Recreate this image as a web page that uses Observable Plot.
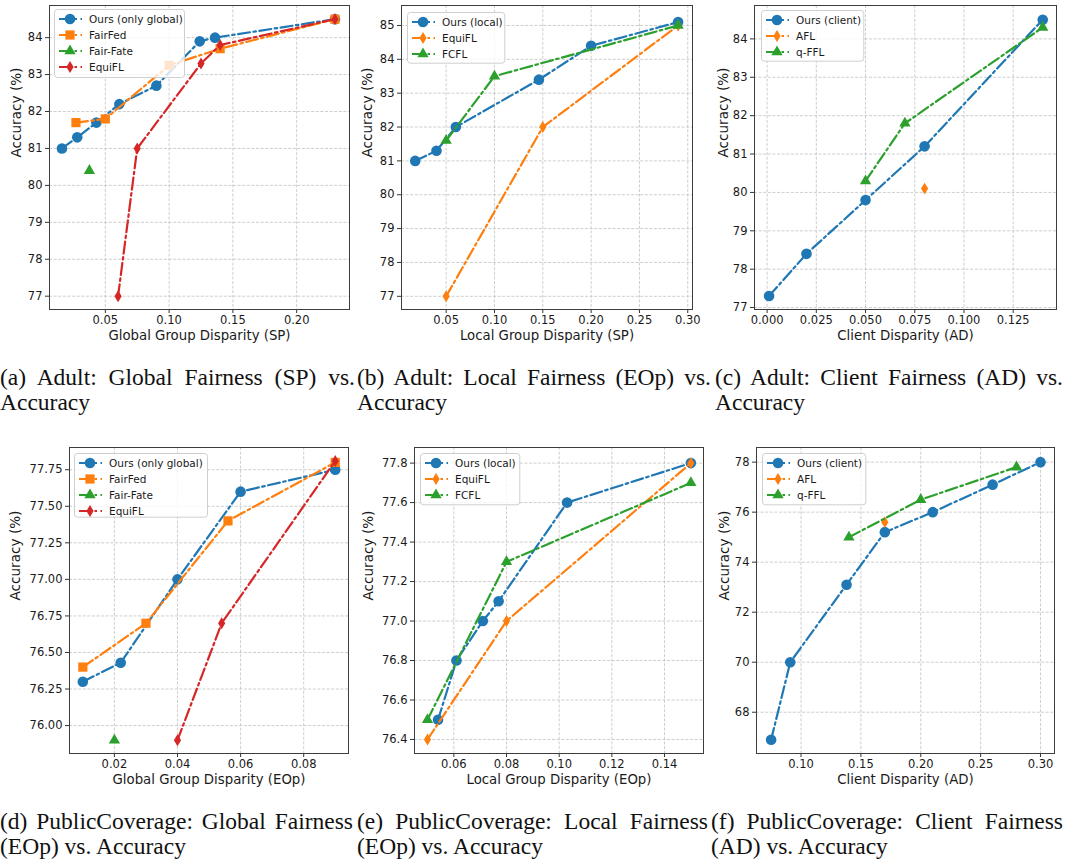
<!DOCTYPE html>
<html><head><meta charset="utf-8">
<script src="https://cdn.jsdelivr.net/npm/d3@7"></script>
<script src="https://cdn.jsdelivr.net/npm/@observablehq/plot@0.6"></script>
<style>
body{margin:0;background:#fff;}
#root{position:relative;width:1067px;height:861px;overflow:hidden;background:#fff;}
#root svg.panel{position:absolute;}
.cap{position:absolute;font-family:"Liberation Serif","Times New Roman",serif;font-size:23.5px;line-height:25px;text-align:justify;color:#111;}
</style></head><body><div id="root"></div><script>
// ---------------- data ----------------
// (a) Adult: global group disparity (SP)
const aOurs     = [[0.016,81.0],[0.028,81.3],[0.043,81.7],[0.061,82.2],[0.090,82.7],[0.124,83.9],[0.136,84.0],[0.230,84.5]];
const aFairFed  = [[0.027,81.7],[0.050,81.8],[0.100,83.25],[0.140,83.7],[0.230,84.5]];
const aFairFate = [[0.0375,80.4]];
const aEquiFL   = [[0.060,77.0],[0.075,81.0],[0.125,83.3],[0.140,83.8],[0.230,84.5]];
// (b) Adult: local group disparity (SP)
const bOurs   = [[0.018,81.0],[0.040,81.3],[0.060,82.0],[0.146,83.4],[0.200,84.4],[0.290,85.1]];
const bEquiFL = [[0.050,77.0],[0.150,82.0],[0.290,85.0]];
const bFCFL   = [[0.050,81.6],[0.100,83.5],[0.290,85.0]];
// (c) Adult: client disparity (AD)
const cOurs = [[0.001,77.3],[0.020,78.4],[0.050,79.8],[0.080,81.2],[0.140,84.5]];
const cAFL  = [[0.080,80.1]];
const cQFFL = [[0.050,80.3],[0.070,81.8],[0.140,84.3]];
// (d) PublicCoverage: global group disparity (EOp)
const dOurs     = [[0.010,76.30],[0.022,76.43],[0.040,77.00],[0.060,77.60],[0.090,77.75]];
const dFairFed  = [[0.010,76.40],[0.030,76.70],[0.056,77.40],[0.090,77.80]];
const dFairFate = [[0.020,75.90]];
const dEquiFL   = [[0.040,75.90],[0.054,76.70],[0.090,77.81]];
// (e) PublicCoverage: local group disparity (EOp)
const eOurs   = [[0.054,76.5],[0.061,76.8],[0.071,77.0],[0.077,77.1],[0.103,77.6],[0.150,77.8]];
const eEquiFL = [[0.050,76.4],[0.080,77.0],[0.150,77.8]];
const eFCFL   = [[0.050,76.5],[0.080,77.3],[0.150,77.7]];
// (f) PublicCoverage: client disparity (AD)
const fOurs = [[0.075,66.9],[0.091,70.0],[0.138,73.1],[0.170,75.2],[0.210,76.0],[0.260,77.1],[0.300,78.0]];
const fAFL  = [[0.170,75.6]];
const fQFFL = [[0.140,75.0],[0.200,76.5],[0.280,77.8]];

// tick labels
const aXTicks = [0.05,0.10,0.15,0.20];
const aYTicks = [77,78,79,80,81,82,83,84];
const bXTicks = [0.05,0.10,0.15,0.20,0.25,0.30];
const bYTicks = [77,78,79,80,81,82,83,84,85];
const cXTicks = [0,0.025,0.05,0.075,0.1,0.125];
const cYTicks = [77,78,79,80,81,82,83,84];
const dXTicks = [0.02,0.04,0.06,0.08];
const dYTicks = [76.00,76.25,76.50,76.75,77.00,77.25,77.50,77.75];
const eXTicks = [0.06,0.08,0.10,0.12,0.14];
const eYTicks = [76.4,76.6,76.8,77.0,77.2,77.4,77.6,77.8];
const fXTicks = [0.10,0.15,0.20,0.25,0.30];
const fYTicks = [68,70,72,74,76,78];

// texts
const xLabels = ["Global Group Disparity (SP)","Local Group Disparity (SP)","Client Disparity (AD)",
                 "Global Group Disparity (EOp)","Local Group Disparity (EOp)","Client Disparity (AD)"];
const yLabel = "Accuracy (%)";
const namesGroupGlobal = ["Ours (only global)","FairFed","Fair-Fate","EquiFL"];
const namesGroupLocal  = ["Ours (local)","EquiFL","FCFL"];
const namesClient      = ["Ours (client)","AFL","q-FFL"];
const captions = [
  "(a) Adult:  Global Fairness (SP) vs. Accuracy",
  "(b) Adult:  Local Fairness (EOp) vs. Accuracy",
  "(c) Adult:  Client Fairness (AD) vs. Accuracy",
  "(d) PublicCoverage: Global Fairness (EOp) vs. Accuracy",
  "(e) PublicCoverage:  Local Fairness (EOp) vs. Accuracy",
  "(f) PublicCoverage:  Client Fairness (AD) vs. Accuracy"
];

// ---------------- style ----------------
const BLUE="#1f77b4", ORANGE="#ff7f0e", GREEN="#2ca02c", RED="#d62728";
const DASH = "12,3.5,2.5,3.5";
const thinDiamond = {draw(ctx, size){ const r=Math.sqrt(size/Math.PI); const hh=1.12*r, hw=0.68*r;
  ctx.moveTo(0,-hh); ctx.lineTo(hw,0); ctx.lineTo(0,hh); ctx.lineTo(-hw,0); ctx.closePath(); }};
const SYM = {
  circle:{plot:"circle", d3:d3.symbolCircle, r:5.3},
  square:{plot:"square", d3:d3.symbolSquare, r:5.2},
  triangle:{plot:"triangle", d3:d3.symbolTriangle, r:4.2},
  diamond:{plot:thinDiamond, d3:thinDiamond, r:5.3}
};
const root = document.getElementById("root");

function panel(cfg){
  const mr=8, mb=42;
  const marks = [
    Plot.ruleX(cfg.xTicks,{stroke:"#c2c2c2",strokeWidth:0.8,strokeDasharray:"3,1.6"}),
    Plot.ruleY(cfg.yTicks,{stroke:"#c2c2c2",strokeWidth:0.8,strokeDasharray:"3,1.6"}),
    Plot.axisX(cfg.xTicks,{tickFormat:cfg.xFmt, tickSize:4, tickPadding:2, fontSize:11.5, label:null, stroke:"#333", fill:"#1a1a1a"}),
    Plot.axisY(cfg.yTicks,{tickFormat:cfg.yFmt, tickSize:4, tickPadding:3, fontSize:11.5, label:null, stroke:"#333", fill:"#1a1a1a"}),
    Plot.text([cfg.xLabel],{text:d=>d, frameAnchor:"bottom", dy:26, lineAnchor:"middle", fontSize:13.3, fill:"#1a1a1a"}),
    Plot.text([yLabel],{text:d=>d, frameAnchor:"left", dx:-cfg.yOff, rotate:-90, lineAnchor:"middle", fontSize:13.6, fill:"#1a1a1a"})
  ];
  for (const s of cfg.series){
    const sy = SYM[s.symbol];
    marks.push(Plot.line(s.data,{x:d=>d[0], y:d=>d[1], stroke:s.color, strokeWidth:2.2, strokeDasharray:DASH}));
    marks.push(Plot.dot(s.data,{x:d=>d[0], y:d=>d[1], fill:s.color, r:sy.r, symbol:sy.plot}));
  }
  marks.push(Plot.frame({stroke:"#3d3d3d", strokeWidth:1}));
  const svg = Plot.plot({
    width: cfg.ml+cfg.fw+mr, height: cfg.mt+cfg.fh+mb,
    marginLeft: cfg.ml, marginRight: mr, marginTop: cfg.mt, marginBottom: mb,
    x:{domain:cfg.xDomain}, y:{domain:cfg.yDomain},
    style:{fontFamily:"DejaVu Sans", fontSize:"11.5px", color:"#1a1a1a", background:"transparent", overflow:"visible"},
    marks
  });
  svg.classList.add("panel");
  svg.style.left = cfg.left+"px"; svg.style.top = cfg.top+"px";
  root.appendChild(svg);
  // legend
  const L = cfg.legend;
  const lg = d3.select(root).append("svg").attr("width",L.w+2).attr("height",L.h+2)
    .style("position","absolute").style("left",(L.x-1)+"px").style("top",(L.y-1)+"px");
  lg.append("rect").attr("x",1.5).attr("y",1.5).attr("width",L.w-1).attr("height",L.h-1).attr("rx",3)
    .attr("fill","rgba(255,255,255,0.8)").attr("stroke","#cfcfcf");
  cfg.series.forEach((s,i)=>{
    const y = 1+10+i*16, sy = SYM[s.symbol];
    lg.append("line").attr("x1",6).attr("x2",29).attr("y1",y).attr("y2",y)
      .attr("stroke",s.color).attr("stroke-width",2.2).attr("stroke-dasharray",DASH);
    lg.append("path").attr("transform",`translate(17,${y})`)
      .attr("d", d3.symbol(sy.d3, Math.PI*sy.r*sy.r)()).attr("fill",s.color);
    lg.append("text").attr("x",36).attr("y",y).attr("dy","0.35em").text(s.name)
      .style("font-family","DejaVu Sans").style("font-size","10.5px").attr("fill","#1a1a1a");
  });
}

const f2 = d3.format(".2f"), f3 = d3.format(".3f"), f1 = d3.format(".1f"), f0 = d3.format("d");
const mk = (names, datas, colors, symbols) => names.map((n,i)=>({name:n, data:datas[i], color:colors[i], symbol:symbols[i]}));

panel({left:0, top:0, ml:49, mt:5, fw:300, fh:304, xDomain:[0.00625,0.2414], yDomain:[76.64,84.87],
  xTicks:aXTicks, yTicks:aYTicks, xFmt:f2, yFmt:f0, xLabel:xLabels[0], yOff:33,
  series: mk(namesGroupGlobal,[aOurs,aFairFed,aFairFate,aEquiFL],[BLUE,ORANGE,GREEN,RED],["circle","square","triangle","diamond"]),
  legend:{x:53.5,y:9.3,w:131,h:69}});
panel({left:355, top:0, ml:46, mt:5, fw:291, fh:304, xDomain:[0.0038,0.3049], yDomain:[76.61,85.59],
  xTicks:bXTicks, yTicks:bYTicks, xFmt:f2, yFmt:f0, xLabel:xLabels[1], yOff:34,
  series: mk(namesGroupLocal,[bOurs,bEquiFL,bFCFL],[BLUE,ORANGE,GREEN],["circle","diamond","triangle"]),
  legend:{x:406.7,y:11.7,w:98.3,h:51.7}});
panel({left:705, top:0, ml:49, mt:5, fw:302, fh:304, xDomain:[-0.0064,0.147], yDomain:[76.95,84.87],
  xTicks:cXTicks, yTicks:cYTicks, xFmt:f3, yFmt:f0, xLabel:xLabels[2], yOff:31,
  series: mk(namesClient,[cOurs,cAFL,cQFFL],[BLUE,ORANGE,GREEN],["circle","diamond","triangle"]),
  legend:{x:761,y:10,w:103.3,h:51.7}});
panel({left:0, top:440, ml:69, mt:7, fw:279, fh:306, xDomain:[0.00577,0.0942], yDomain:[75.809,77.902],
  xTicks:dXTicks, yTicks:dYTicks, xFmt:f2, yFmt:f2, xLabel:xLabels[3], yOff:54,
  series: mk(namesGroupGlobal,[dOurs,dFairFed,dFairFate,dEquiFL],[BLUE,ORANGE,GREEN,RED],["circle","square","triangle","diamond"]),
  legend:{x:74,y:452.7,w:134,h:64.7}});
panel({left:355, top:440, ml:59, mt:7, fw:289, fh:306, xDomain:[0.04506,0.1548], yDomain:[76.329,77.879],
  xTicks:eXTicks, yTicks:eYTicks, xFmt:f2, yFmt:f1, xLabel:xLabels[4], yOff:46,
  series: mk(namesGroupLocal,[eOurs,eEquiFL,eFCFL],[BLUE,ORANGE,GREEN],["circle","diamond","triangle"]),
  legend:{x:420,y:452.7,w:100.3,h:52.3}});
panel({left:705, top:440, ml:51, mt:7, fw:298, fh:306, xDomain:[0.0628,0.3117], yDomain:[66.35,78.585],
  xTicks:fXTicks, yTicks:fYTicks, xFmt:f2, yFmt:f0, xLabel:xLabels[5], yOff:32,
  series: mk(namesClient,[fOurs,fAFL,fQFFL],[BLUE,ORANGE,GREEN],["circle","diamond","triangle"]),
  legend:{x:761.7,y:452.7,w:104.3,h:52.3}});

// captions
const capPos = [[0,365,355],[357,365,354],[715,365,348],[0,809,353],[357,809,351],[711,809,352]];
captions.forEach((t,i)=>{
  const d = document.createElement("div");
  d.className="cap"; d.textContent=t;
  d.style.left=capPos[i][0]+"px"; d.style.top=capPos[i][1]+"px"; d.style.width=capPos[i][2]+"px";
  root.appendChild(d);
});
</script></body></html>
